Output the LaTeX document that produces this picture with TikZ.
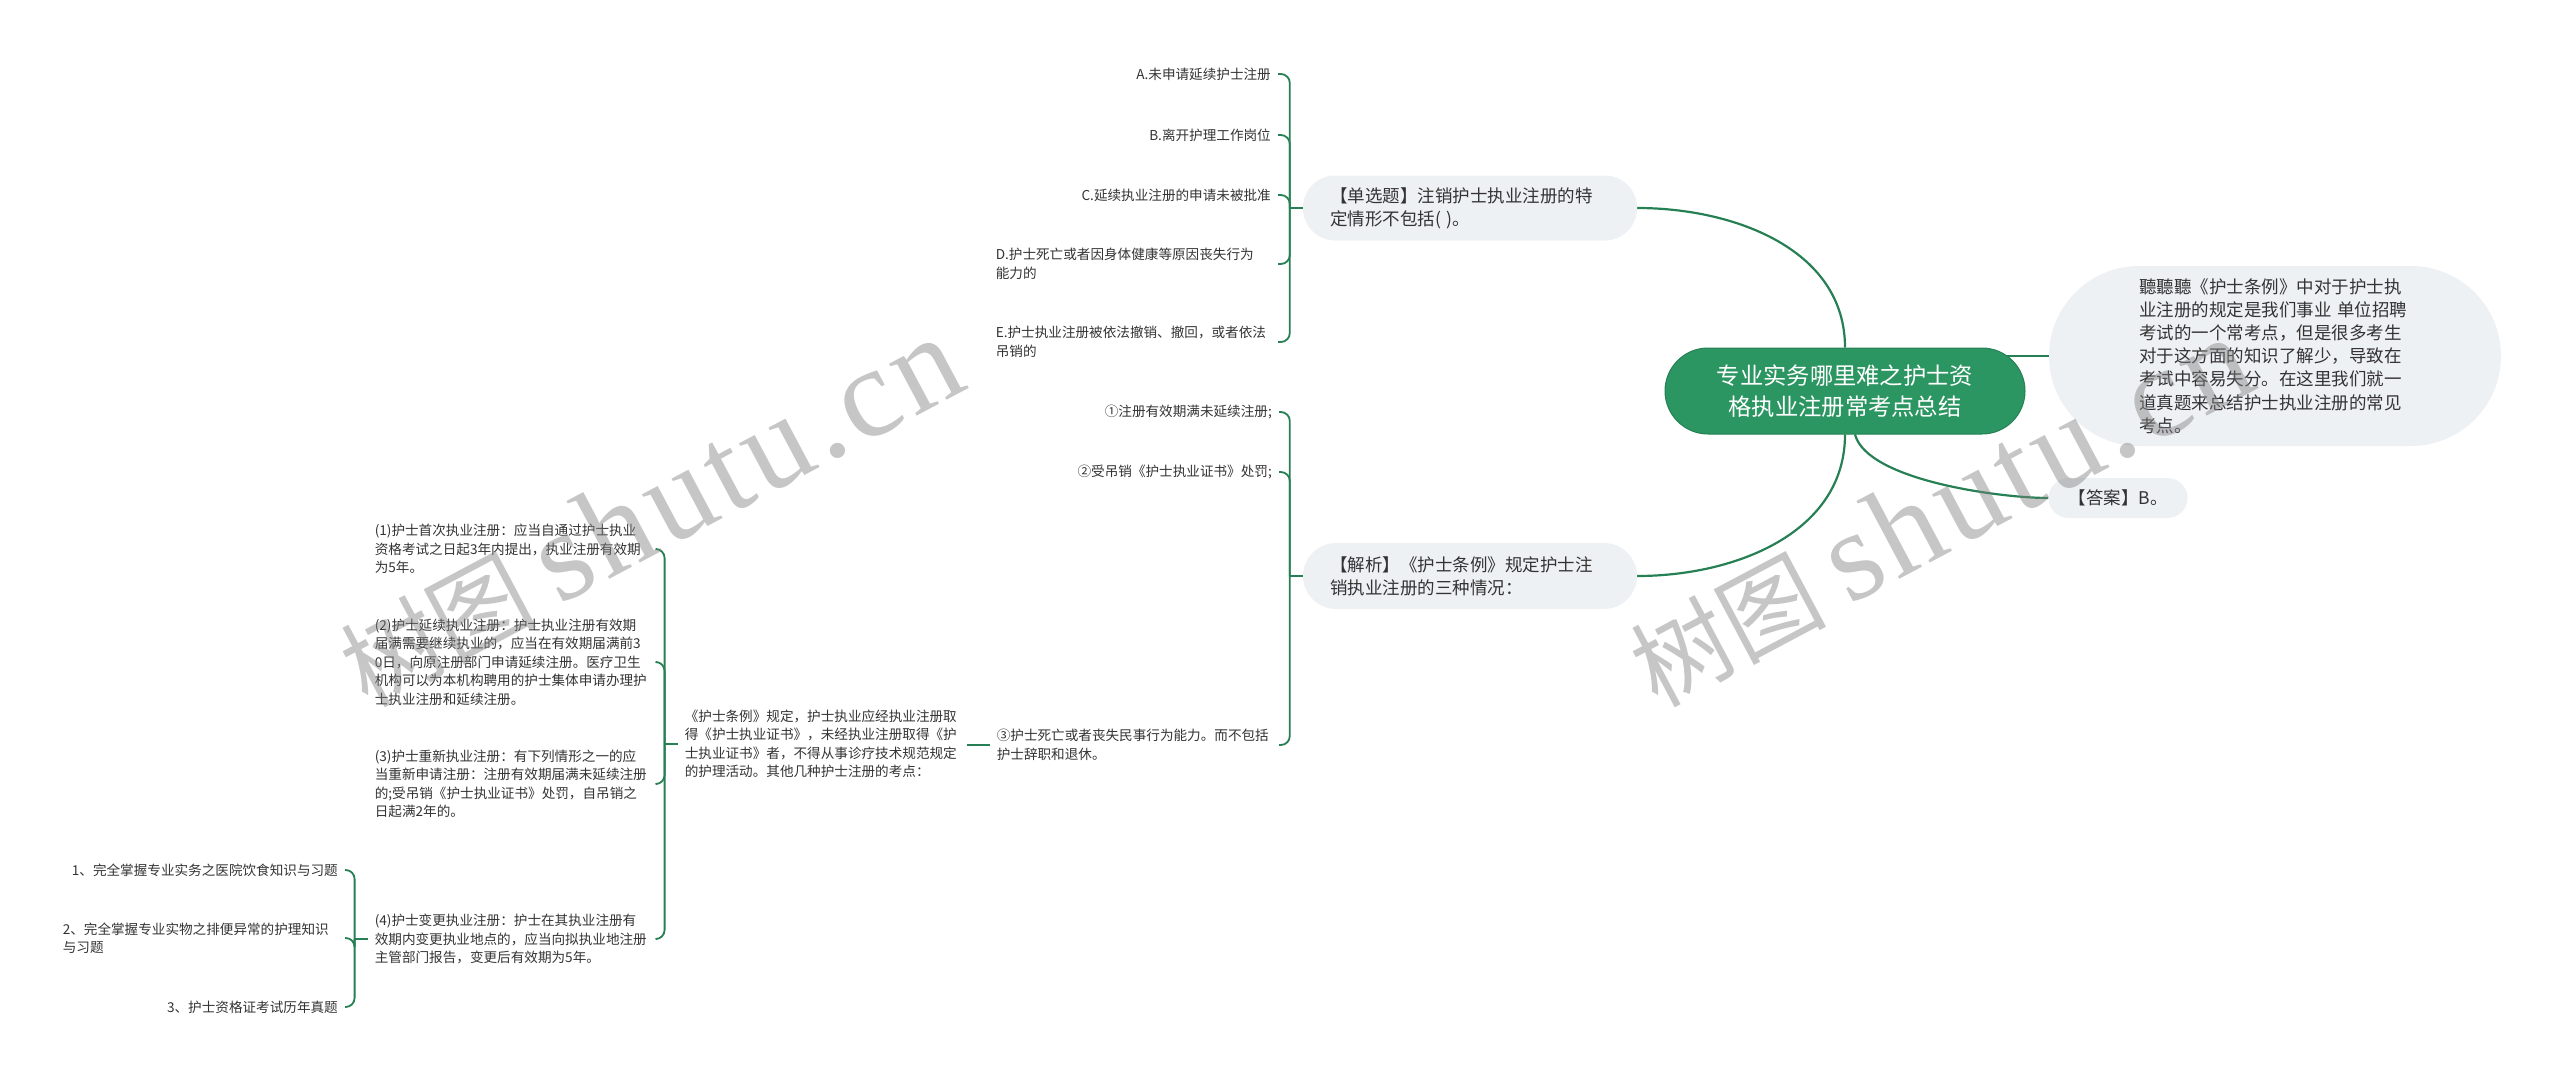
\documentclass[tikz,border=0pt]{standalone}
\usepackage{fontspec}
\setmainfont{Noto Sans CJK SC}
\newfontfamily\wmlatin[LetterSpace=4]{Liberation Serif}
\usepackage{tikz}
\pgfdeclarelayer{bg}
\pgfsetlayers{bg,main}
\definecolor{linkgreen}{RGB}{38,128,84}
\definecolor{rootgreen}{RGB}{44,150,98}
\definecolor{pillgray}{RGB}{238,241,244}
\definecolor{txt}{RGB}{51,51,51}

\begin{document}
\begin{tikzpicture}[x=1pt,y=-1pt]
                \tikzstyle{rootn} = [fill=rootgreen, draw=linkgreen, line width=1pt, text=white, rounded corners=43pt, minimum width=360pt, minimum height=86pt, inner sep=0pt, align=center, font=\fontsize{23.3}{31}\selectfont]
                \tikzstyle{pill} = [fill=pillgray, text=txt, align=left, font=\fontsize{17.5}{23.2}\selectfont]
                \tikzstyle{leaf} = [anchor=east, inner xsep=7pt, inner ysep=2pt, text=txt, font=\fontsize{13.6}{18.5}\selectfont]
                \tikzstyle{wrap} = [text width=275pt, align=left]
                \tikzstyle{link} = [draw=linkgreen, line width=2.2pt]
                \tikzstyle{brace} = [draw=linkgreen, line width=1.8pt, rounded corners=9pt]
                \tikzstyle{wm} = [rotate=28, text=gray, opacity=0.45, font=\fontsize{98}{98}\selectfont]
                \useasboundingbox (0,0) rectangle (2560,1081);

                \node[rootn] (root) at (1845,391) {专业实务哪里难之护士资\\格执业注册常考点总结};
                \node[pill, text width=272pt, inner xsep=90pt, inner ysep=0pt, minimum height=180pt, rounded corners=90pt] (intro) at (2275,356)
                    {聽聽聽《护士条例》中对于护士执\\业注册的规定是我们事业~单位招聘\\考试的一个常考点，但是很多考生\\对于这方面的知识了解少，导致在\\考试中容易失分。在这里我们就一\\道真题来总结护士执业注册的常见\\考点。};
                \node[pill, inner xsep=20pt, inner ysep=0pt, minimum height=40pt, rounded corners=20pt] (ans) at (2118,498) {【答案】B。};
                \node[pill, text width=280pt, inner xsep=27pt, inner ysep=0pt, minimum height=65pt, rounded corners=32pt] (sq) at (1470,208)
                    {【单选题】注销护士执业注册的特\\定情形不包括( )。};
                \node[pill, text width=280pt, inner xsep=27pt, inner ysep=0pt, minimum height=66pt, rounded corners=33pt] (jx) at (1470,576)
                    {【解析】《护士条例》规定护士注\\销执业注册的三种情况：};

                \node[leaf] (qa) at (1278,74) {A.未申请延续护士注册};
                \node[leaf] (qb) at (1278,135) {B.离开护理工作岗位};
                \node[leaf] (qc) at (1278,195) {C.延续执业注册的申请未被批准};
                \node[leaf, wrap] (qd) at (1278,264) {D.护士死亡或者因身体健康等原因丧失行为\\能力的};
                \node[leaf, wrap] (qe) at (1278,342) {E.护士执业注册被依法撤销、撤回，或者依法\\吊销的};

                \node[leaf] (ja) at (1279,412) {①注册有效期满未延续注册;};
                \node[leaf] (jb) at (1279,472) {②受吊销《护士执业证书》处罚;};
                \node[leaf, wrap] (jc) at (1279,745) {③护士死亡或者丧失民事行为能力。而不包括\\护士辞职和退休。};
                \node[leaf, wrap] (tl) at (967,744) {《护士条例》规定，护士执业应经执业注册取\\得《护士执业证书》，未经执业注册取得《护\\士执业证书》者，不得从事诊疗技术规范规定\\的护理活动。其他几种护士注册的考点：};

                \node[leaf, wrap] (ra) at (657,549) {(1)护士首次执业注册：应当自通过护士执业\\资格考试之日起3年内提出，执业注册有效期\\为5年。};
                \node[leaf, wrap] (rb) at (657,662) {(2)护士延续执业注册：护士执业注册有效期\\届满需要继续执业的，应当在有效期届满前3\\0日，向原注册部门申请延续注册。医疗卫生\\机构可以为本机构聘用的护士集体申请办理护\\士执业注册和延续注册。};
                \node[leaf, wrap] (rc) at (657,784) {(3)护士重新执业注册：有下列情形之一的应\\当重新申请注册：注册有效期届满未延续注册\\的;受吊销《护士执业证书》处罚，自吊销之\\日起满2年的。};
                \node[leaf, wrap] (rd) at (657,939) {(4)护士变更执业注册：护士在其执业注册有\\效期内变更执业地点的，应当向拟执业地注册\\主管部门报告，变更后有效期为5年。};

                \node[leaf] (sa) at (345,870) {1、完全掌握专业实务之医院饮食知识与习题};
                \node[leaf, wrap] (sb) at (345,938) {2、完全掌握专业实物之排便异常的护理知识\\与习题};
                \node[leaf] (sc) at (345,1007) {3、护士资格证考试历年真题};

                \begin{pgfonlayer}{bg}
                    \draw[link] (root.north) to[out=90, in=0] (sq.east);
                    \draw[link] (root.south) to[out=-90, in=0] (jx.east);
                    \draw[link] ([xshift=10pt]root.south) to[out=-75, in=180, looseness=0.6] (ans.west);
                    \draw[link] (intro.west) -- (intro.west -| root.center);
                    \draw[brace] (sq.west) -- ++(-13,0);
                    \foreach \c in {qa,qb,qc,qd,qe} {
                        \draw[brace] ([xshift=-13pt]sq.west) |- (\c.east);
                    }
                    \draw[brace] (jx.west) -- ++(-13,0);
                    \foreach \c in {ja,jb,jc} {
                        \draw[brace] ([xshift=-13pt]jx.west) |- (\c.east);
                    }
                    \draw[brace] (jc.west) -- (jc.west -| tl.east);
                    \draw[brace] (tl.west) -- ++(-13,0);
                    \foreach \c in {ra,rb,rc,rd} {
                        \draw[brace] ([xshift=-13pt]tl.west) |- (\c.east);
                    }
                    \draw[brace] (rd.west) -- ++(-13,0);
                    \foreach \c in {sa,sb,sc} {
                        \draw[brace] ([xshift=-13pt]rd.west) |- (\c.east);
                    }
                \end{pgfonlayer}

                \node[wm] (wma) at (650,512) {树图 {\wmlatin\fontsize{128}{128}\selectfont shutu.cn}};
                \node[wm] (wmb) at (1940,512) {树图 {\wmlatin\fontsize{128}{128}\selectfont shutu.cn}};
            \end{tikzpicture}
\end{document}
